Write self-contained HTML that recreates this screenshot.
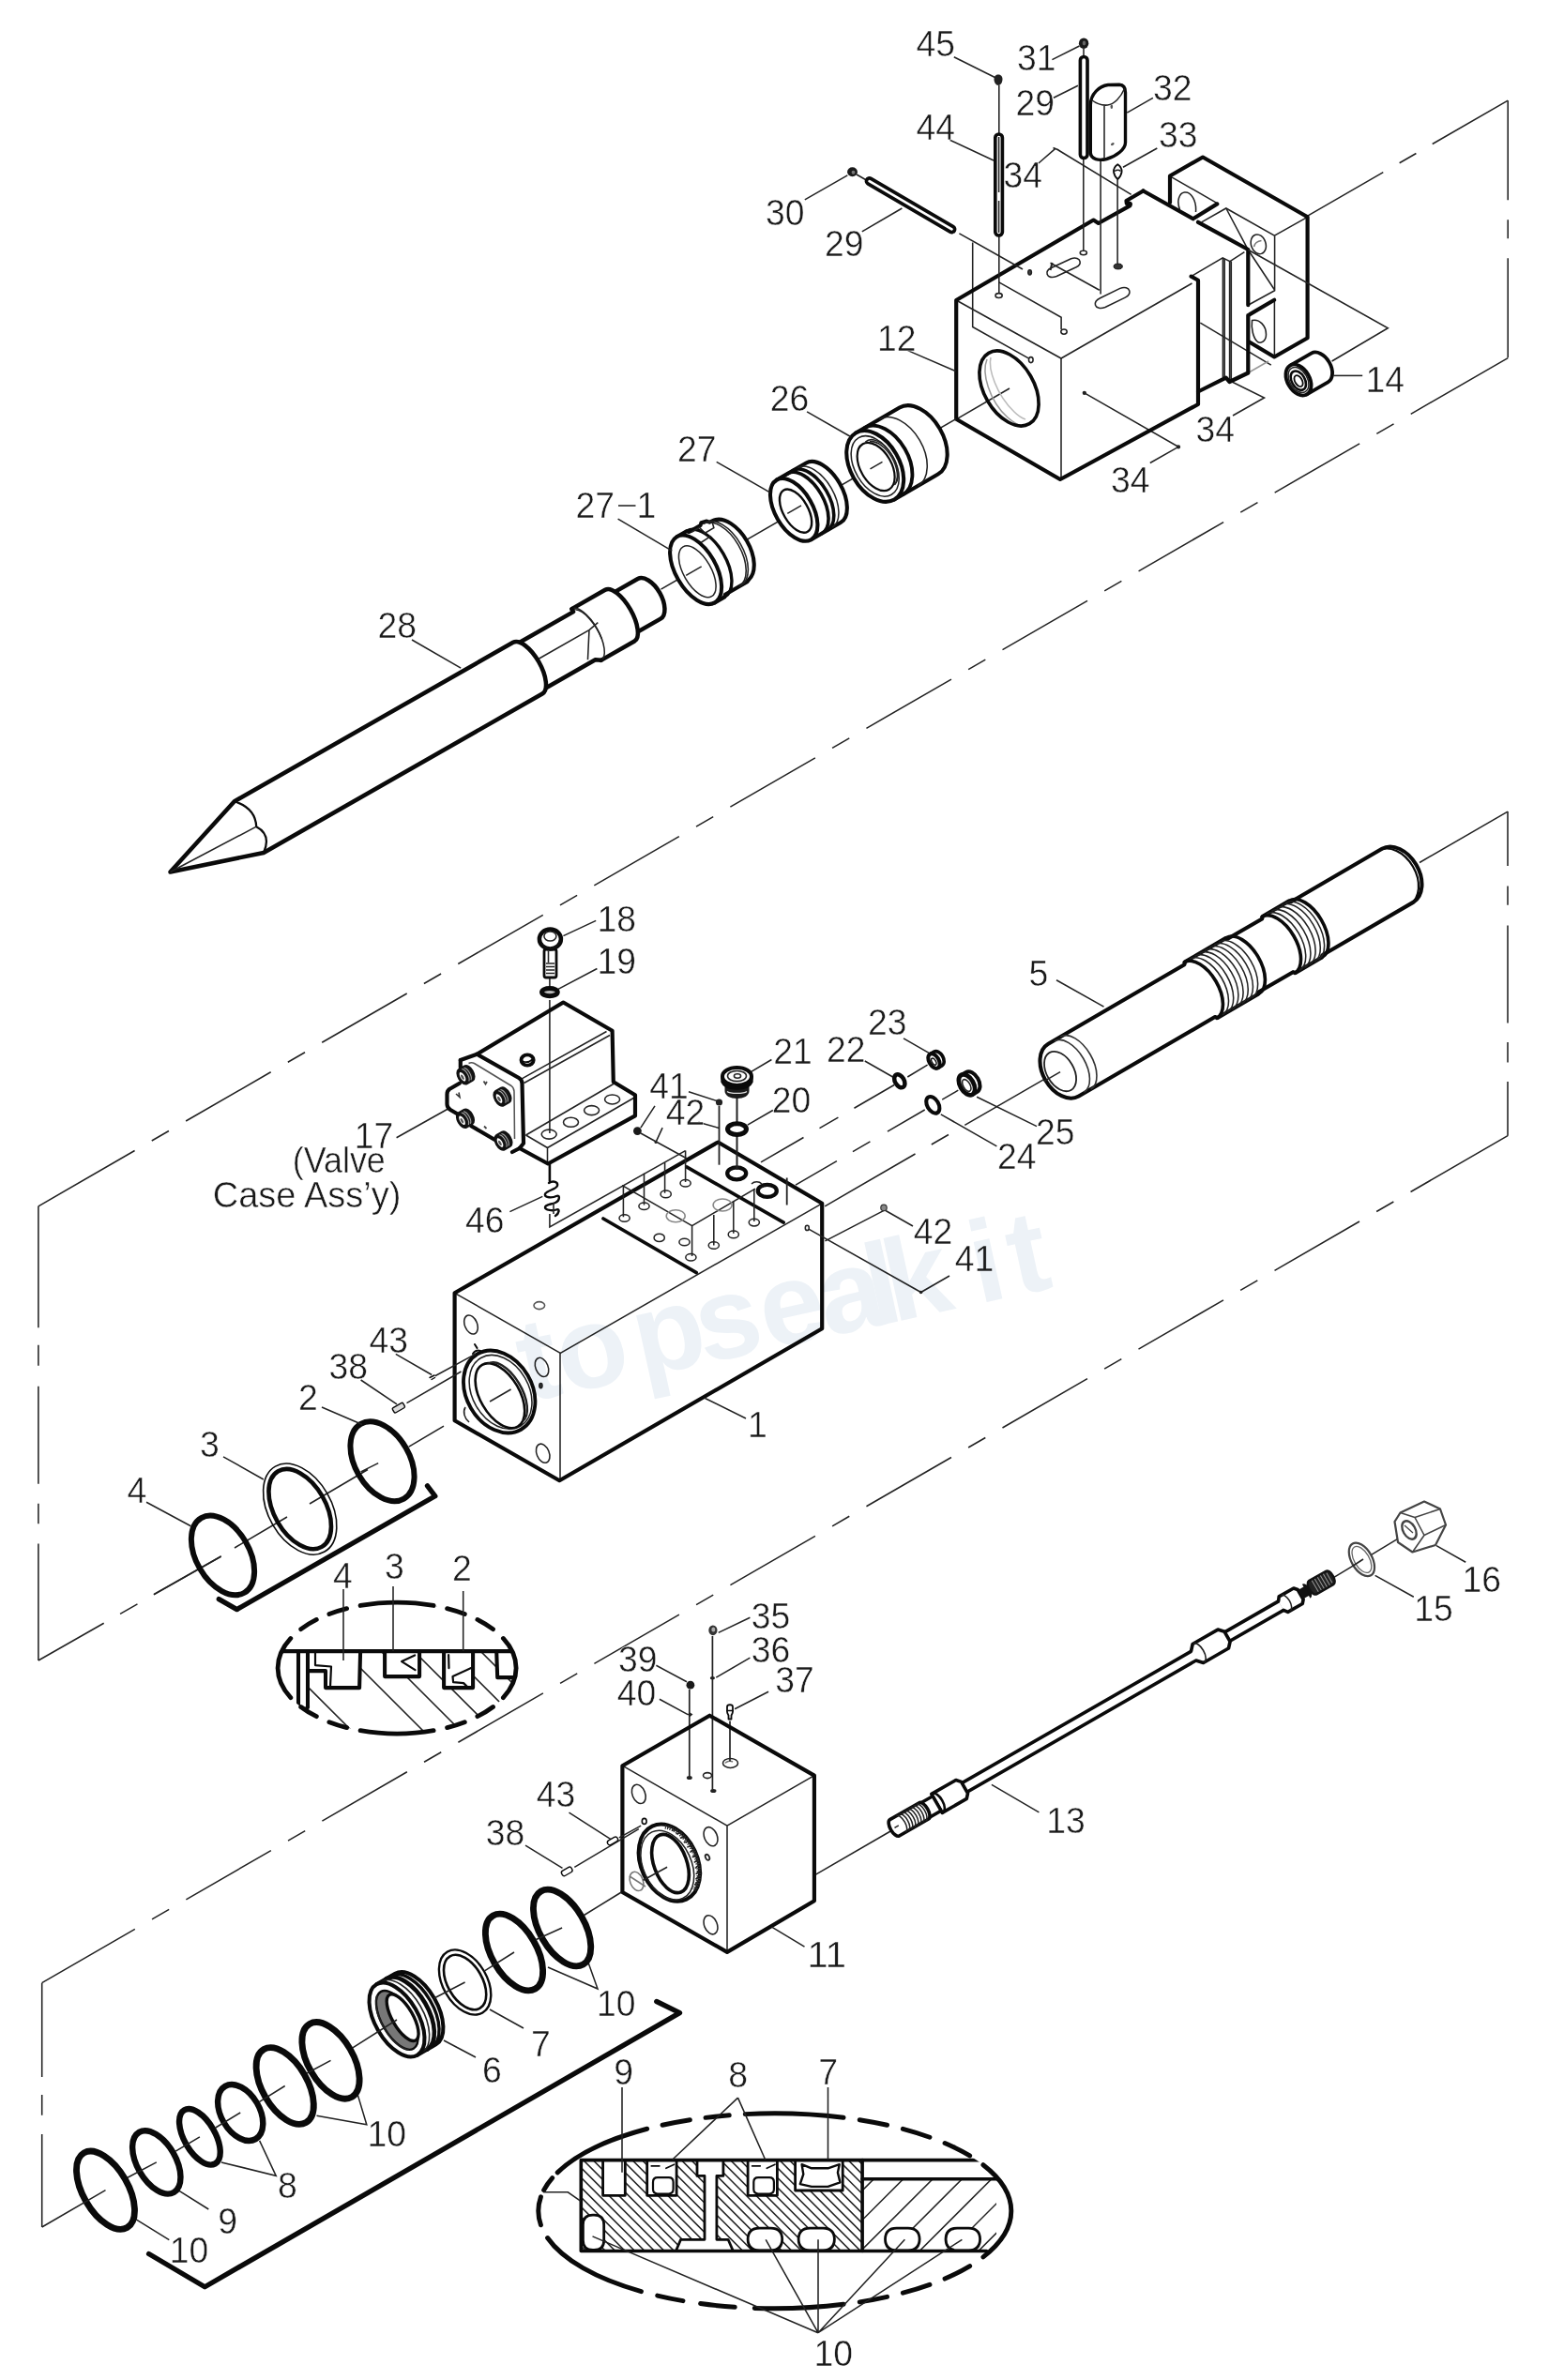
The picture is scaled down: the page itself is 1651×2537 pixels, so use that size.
<!DOCTYPE html>
<html><head><meta charset="utf-8"><title>Exploded view</title>
<style>
html,body{margin:0;padding:0;background:#fff;}
svg{display:block}
text{font-family:"Liberation Sans",sans-serif;fill:#1a1a1a;stroke:#fff;stroke-width:.5px;paint-order:fill stroke}
.k{stroke:#0a0a0a;stroke-linecap:round;stroke-linejoin:round}
.t{stroke:#222;stroke-width:1.55}
.w{fill:#fff}
</style></head><body>
<svg width="1651" height="2537" viewBox="0 0 1651 2537" fill="none">
<rect width="1651" height="2537" fill="#fff"/>
<!-- ===== centre-line frames ===== -->
<g class="t" stroke-linecap="butt">
<!-- frame 1 -->
<path d="M1393.7 230.1L1607.2 107.2" stroke-dasharray="93 20 20.5 20 93"/>
<path d="M1607.2 107.2V381.6" stroke-dasharray="106 21 20 21 106"/>
<path d="M1607.2 381.6L40.9 1285.8" stroke-dasharray="119.5 21 21 21 104.5 21 21 21 104.5 21 21 21 104.5 21 21 21 104.5 21 21 21 104.5 21 21 21 104.5 21 21 21 104.5 21 21 21 104.5 21 21 21 104.5 21 21 21 119.5"/>
<path d="M40.9 1285.8V1770" stroke-dasharray="129.4 18.5 22 22 104 21 21.5 21.3 125"/>
<path d="M40.9 1770L235.7 1659" stroke-dasharray="80.3 20 21.2 20 90"/>
</g>
<g class="t" stroke-linecap="butt">
<!-- frame 2 -->
<path d="M1513 919.5L1607 865.1"/>
<path d="M1607 865.1V1210.7" stroke-dasharray="57.8 21.5 20.4 21.6 104.2 20.4 21.5 20.4 58"/>
<path d="M1607 1210.7L44.7 2113.7" stroke-dasharray="119.5 21 21 21 104.5 21 21 21 104.5 21 21 21 104.5 21 21 21 104.5 21 21 21 104.5 21 21 21 104.5 21 21 21 104.5 21 21 21 104.5 21 21 21 104.5 21 21 21 119.5"/>
<path d="M44.7 2113.7V2374" stroke-dasharray="100.3 19 21.7 20.3 99"/>
</g>

<!-- ===== TOP ASSEMBLY ===== -->
<g id="bracket">
<path class="w" d="M1247 187.1L1281.3 167.2L1393.6 231.3V360.3L1358.2 380.5L1330.3 364.5V267L1273 232.2L1247 216Z"/>
<g class="t">
<path d="M1248 188.300L1297.300 216.700"/>
<path d="M1280.600 236.800L1306.800 222L1358.400 251.200L1393.600 231.300"/>
<path d="M1358.600 251.600V309.700L1330.300 325.200"/>
<path d="M1358.400 319.800V379.500"/>
<path d="M1306.800 222L1330.300 266.300L1358.200 308.500"/>
<path d="M1257.500 223.500c-3.500-9-1-17.500 5-18.500c7-1 13 9 12 21"/>
<ellipse cx="1341.300" cy="260.300" rx="7.800" ry="10.600" transform="rotate(-18 1341.300 260.300)"/>
<path d="M1336.500 263c1-4 4-6 8-6.500" stroke="#777"/>
<path d="M1334.500 341.500c8-2 15 6 15 15c0 7-5 10-9 8c-5-4-7-15-6-23z"/>
</g>
<g class="k" stroke-width="4.18">
<path d="M1247 216V187.500L1282 167.500L1393.600 231.300V360.300L1358.200 380.500L1331.500 364.500"/>
<path d="M1271.600 233.200L1297.300 217.400"/>
<path d="M1358.200 319.800L1330.300 336.100"/>
</g>
</g>

<g id="block12">
<path class="w" d="M1019.2 320L1165.5 234.5L1170.8 238L1218.5 203.5L1330.3 266.3V397.5L1310.5 407L1306.7 402.7L1277 417.5V431L1130 511L1019.2 446.7Z"/>
<g class="t">
<path d="M1019.2 320L1131 382L1270.5 302"/>
<path d="M1131 382V511"/>
<path d="M1270 294.3L1303.2 274.9L1310.9 278.7L1326.4 268.7"/>
<path d="M1303.4 275V402.5M1305.2 276V402.5M1310.6 279V406M1312.3 278.5V406"/>
<path d="M1279.3 344.2L1354.8 389.2"/>
<path d="M1308 404.5L1347.5 424L1314 443"/>
<path d="M1330.3 397.5L1352 385" stroke="#999"/>
<!-- bore axis + depth -->
<path d="M1020.7 446.2L1076 414"/>
<path d="M1052 383c-6 14 2 44 22 62c8 7 14 9 17 9" stroke="#999"/>
<path d="M1056 381c-3 12 6 40 25 58c5 5 9 7 12 8" stroke="#bbb"/>
<!-- top face details -->
<ellipse cx="1064.6" cy="315" rx="3.6" ry="2.4"/>
<ellipse cx="1154.8" cy="269.5" rx="3.6" ry="2.2"/>
<ellipse cx="1097.6" cy="290.3" rx="1.8" ry="2.6" fill="#444"/>
<ellipse cx="1134" cy="353.6" rx="3.2" ry="2.6"/>
<ellipse cx="1098.8" cy="383.6" rx="2.3" ry="3"/>
<path d="M1064.3 300.6L1131.1 338.3V351"/>
<path d="M1036.7 258.4V348.5L1096.2 381.9"/>
<path d="M1119.5 280.2L1171.8 309.3"/>
<path d="M1120.6 285.5L1141.6 275.8c5-2 9 0 9.500 3c.5 2.500-1 4.500-4 6L1126.200 294.500c-5 2-9 1-10-2c-1-3 1-5.500 4.400-7z"/>
<path d="M1121.500 280l-2 8" stroke-width="2.00"/>
<path d="M1172.600 317.700L1193.800 307.400c5-2 9-0.500 10 2.500c.8 3-1 5.500-4.500 7.200L1178 327.500c-5 2-9.500 1-10.500-2.200c-.8-3 1.200-5.800 5.100-7.600z"/>
<path d="M1155.800 418.800L1256 476.300L1225.800 493.500"/>
<circle cx="1155.800" cy="418.800" r="1.400" fill="#222"/><circle cx="1256" cy="476.300" r="1.400" fill="#222"/>
</g>
<ellipse cx="1191.700" cy="284" rx="4.600" ry="2.900" fill="#333" stroke="#111" stroke-width="1.00"/>
<g class="k" stroke-width="4.18">
<path d="M1218.500 203.500L1200.500 214L1200.800 216.800Q1206.500 215.500 1204.200 219.400L1170.800 238L1165.500 234.500L1019.200 320V446.700L1130 511L1277 431V298.800L1269.600 294.600"/>
<path d="M1218.500 203.500L1271.600 233.200M1277 236.800L1330.300 266V325.200"/>
<path d="M1330.300 336.100V397.500L1310.500 407L1306.700 402.700L1277 417.500"/>
</g>
<ellipse class="k" stroke-width="3.62" cx="1075.500" cy="414" rx="26.500" ry="43.500" transform="rotate(-30 1075.500 414)"/>
</g>

<!-- pins / balls above block 12 -->
<g class="t">
<path d="M1016.800 60.700L1060.400 82.500"/>
<path d="M1064.800 91V142M1064.800 251V313"/>
<path d="M1012.500 149.300L1059 171"/>
<path d="M1121.400 63.600L1150.500 49"/>
<path d="M1122.900 104.300L1149 91.200"/>
<path d="M1154.800 169.600V268"/>
<path d="M1201.300 120.200L1228.900 104.300"/>
<path d="M1173.100 171V313.500"/>
<path d="M1197 178.300L1233.300 158"/>
<path d="M1191.100 191.400V281.500"/>
<path d="M1106.900 174L1124.300 158.900M1122.500 157.500l6 2.500M1127.200 159.500L1205.700 207.400"/>
<path d="M857.800 212.900L903.300 186.800"/>
<path d="M918.800 246.800L961.400 222"/>
<path d="M913 186L926 193.500M1022.400 248.800L1090 287"/>
<path d="M967.600 373.600L1018.700 395.600"/>
</g>
<!-- ball 45 -->
<path d="M1059.500 84.500c0-3.500 2-5 4.500-5s4.500 1.500 4.500 5c0 3-2 6.500-4.500 6.500s-4.500-3.500-4.500-6.500z" fill="#222"/>
<!-- pin 44 -->
<rect x="1060.800" y="143" width="7.600" height="108" rx="3.800" class="k" stroke-width="3.62" fill="#fff"/>
<path class="t" d="M1064.600 146V205M1064.600 214V248" stroke="#555"/>
<!-- ball 31 -->
<ellipse cx="1155.100" cy="46.200" rx="5.200" ry="5.800" fill="#1a1a1a"/>
<ellipse cx="1155.500" cy="46" rx="1.800" ry="2.400" fill="#666"/>
<path class="t" d="M1155 52V59"/>
<!-- pin 29 vertical -->
<rect x="1151.400" y="60.500" width="7.600" height="108" rx="3.800" class="k" stroke-width="3.62" fill="#fff"/>
<!-- block 32 -->
<path class="k w" stroke-width="3.39" fill="#fff" d="M1162.300 112C1162.300 100 1172 91.500 1181 90.500L1193 90.300C1197 90.500 1199.500 93.500 1199.500 98.500V152C1199.500 159 1190 166.500 1179.500 169.500C1171 171.500 1163 170 1162.300 163Z"/>
<path class="t" d="M1163.500 106.500c5 4 12 6 17 5.500c7-1 14-8 18-17.500"/>
<path class="t" d="M1177 112.500V169" stroke="#999"/>
<ellipse cx="1184.800" cy="113.700" rx="1.300" ry="2.200" fill="#555"/>
<ellipse cx="1185.800" cy="153.600" rx="2" ry="1.300" fill="#555" transform="rotate(-30 1185.800 153.600)"/>
<!-- item 33 -->
<path class="k" stroke-width="1.80" fill="#fff" d="M1191.300 175.200c3 2 4.500 5 4.300 8c-.3 3-2.300 6-4.300 8c-2-2-4-5-4.300-8c-.2-3 1.300-6 4.300-8z"/>
<path d="M1188 182.500c2-1.500 5-1.500 6.500 0" class="t" stroke-width="1.60"/>
<!-- ball 30 + diagonal pin 29 -->
<ellipse cx="908.500" cy="183.300" rx="5.400" ry="5" fill="#1a1a1a"/>
<ellipse cx="909.500" cy="183.800" rx="1.900" ry="2" fill="#777"/>
<g transform="rotate(30.300 926.500 193)"><rect x="923.500" y="189.800" width="108" height="6.400" rx="3.200" class="k" stroke-width="3.62" fill="#fff"/></g>

<g font-size="39.500">
<text x="976.500" y="59.500" textLength="41.5" lengthAdjust="spacingAndGlyphs">45</text>
<text x="976.500" y="149" textLength="41.5" lengthAdjust="spacingAndGlyphs">44</text>
<text x="1084" y="75" textLength="41.5" lengthAdjust="spacingAndGlyphs">31</text>
<text x="1082.500" y="123" textLength="41.5" lengthAdjust="spacingAndGlyphs">29</text>
<text x="1229" y="107" textLength="41.5" lengthAdjust="spacingAndGlyphs">32</text>
<text x="1235" y="156.500" textLength="41.5" lengthAdjust="spacingAndGlyphs">33</text>
<text x="1069.500" y="200" textLength="41.5" lengthAdjust="spacingAndGlyphs">34</text>
<text x="816" y="240" textLength="41.5" lengthAdjust="spacingAndGlyphs">30</text>
<text x="879" y="273" textLength="41.5" lengthAdjust="spacingAndGlyphs">29</text>
<text x="935" y="373.600" textLength="41.5" lengthAdjust="spacingAndGlyphs">12</text>
<text x="1274.500" y="471.400" textLength="41.5" lengthAdjust="spacingAndGlyphs">34</text>
<text x="1184" y="524.700" textLength="41.5" lengthAdjust="spacingAndGlyphs">34</text>
<text x="1455.600" y="417.600" textLength="41.5" lengthAdjust="spacingAndGlyphs">14</text>
<text x="820.800" y="437.600" textLength="41.5" lengthAdjust="spacingAndGlyphs">26</text>
<text x="722" y="492.300" textLength="41.5" lengthAdjust="spacingAndGlyphs">27</text>
<text x="613.500" y="552" textLength="41.5" lengthAdjust="spacingAndGlyphs">27</text><text x="678.500" y="552" textLength="20.8" lengthAdjust="spacingAndGlyphs">1</text>
<text x="402.400" y="680.400" textLength="41.5" lengthAdjust="spacingAndGlyphs">28</text>
</g>
<path class="t" stroke-width="2.00" d="M659 539H677.500"/>

<!-- axis line for top assembly -->
<path class="t" d="M704.500 628.100L1019.200 446.500" />
<!-- part 26 -->
<g transform="translate(932.700 496.900) rotate(-30)">
<path class="k w" stroke-width="4.07" fill="#fff" d="M0 -41H53.700A26 41 0 0 1 53.700 41H0"/>
<path class="t" d="M29 -41A26 41 0 0 1 29 41" stroke="#666"/>
<path class="k" stroke-width="3.84" d="M10.700 -41A26 41 0 0 1 10.700 41"/>
<ellipse class="k" stroke-width="4.07" fill="#fff" rx="26" ry="41"/>
<ellipse class="t" rx="21.500" ry="35" stroke="#555"/>
<ellipse class="k" stroke-width="2.20" rx="16.500" ry="28" cx="0.500" cy="1"/>
<path class="t" d="M8 -25.500A15 27 0 0 1 8 27.500" stroke="#444"/>
<path class="t" d="M4 -27.500A15 27 0 0 1 8 27.500" stroke="#999"/>
<path class="t" d="M-6 0H9"/>
</g>
<!-- part 27 -->
<g transform="translate(846.200 543.400) rotate(-30)">
<path class="k w" stroke-width="4.07" fill="#fff" d="M0 -36.700H36.300A20 36.700 0 0 1 36.300 36.700H0"/>
<path class="k" stroke-width="3.62" d="M13.400 -36.700A20 36.700 0 0 1 13.400 36.700"/>
<path class="k" stroke-width="3.62" d="M20 -36.700A20 36.700 0 0 1 20 36.700"/>
<path class="t" d="M26 -36.700A20 36.700 0 0 1 26 36.700" stroke="#777"/>
<ellipse class="k" stroke-width="4.07" fill="#fff" rx="20" ry="36.700"/>
<ellipse class="k" stroke-width="2.40" rx="13.200" ry="25.500" cx="1" cy="2"/>
<path class="t" d="M-8 0H9"/>
</g>
<!-- part 27-1 -->
<g transform="translate(741.600 607.300) rotate(-30)">
<path class="k w" stroke-width="4.07" d="M0 -40.500H12L14 -38.500H28L30 -40.500L36 -39L38 -36.500L43.500 -36A21.500 37 0 0 1 43.500 37.500L41 38.500H14L12 40.500H0"/>
<path class="k" stroke-width="3.39" d="M12.500 -40.500A21.500 40.500 0 0 1 12.500 40.500"/>
<path class="t" d="M31 -38.500A21.500 38.500 0 0 1 31 38.500" stroke="#444"/>
<path class="t" d="M33.500 -38.500A21.500 38.500 0 0 1 33.500 38.500" stroke="#888"/>
<path class="t" d="M16 -37h10l2 8h11l1.500 -6" stroke="#444"/>
<path class="t" d="M14 -22L32 -23" stroke="#444"/>
<path class="t" d="M3 -37L13 -34" stroke="#777"/>
<ellipse class="k w" stroke-width="4.07" rx="21.500" ry="40.500"/>
<ellipse class="t" stroke-width="1.60" rx="14.600" ry="30.500" cx="0.500" cy="2.500"/>
<path class="t" d="M-12 0H7"/>
</g>
<!-- roller 14 -->
<path class="t" d="M1330.300 266.300L1479.300 349.700L1419.600 385"/>
<path class="t" d="M1421.400 400.400H1452.200"/>
<g transform="translate(1384 405) rotate(-30)">
<path class="k w" stroke-width="3.84" fill="#fff" d="M0 -17.800H26A11.800 17.800 0 0 1 26 17.800H0"/>
<ellipse class="k" stroke-width="3.84" fill="#fff" rx="11.800" ry="17.800"/>
<ellipse class="k" stroke-width="2.60" rx="7" ry="11" cx="-0.500" cy="0.500"/>
<ellipse class="t" rx="9.500" ry="14.500" stroke="#777"/>
<ellipse class="k" stroke-width="1.80" rx="3.800" ry="6.500" cx="-0.500" cy="1"/>
</g>
<!-- chisel 28 -->
<path class="t" d="M439 682L491.200 712.200"/>
<path class="t" d="M658.600 553.100L716.200 587.100"/>
<path class="t" d="M763.700 492.300L820.600 524.800"/>
<path class="t" d="M860.100 438.800L906.600 465.500"/>
<g transform="translate(265.400 881.600) rotate(-29.700)">
<!-- neck -->
<path class="k w" stroke-width="4.52" fill="#fff" d="M455 -24.500H491A13 24.500 0 0 1 491 24.500H455Z"/>
<!-- collar -->
<path class="k w" stroke-width="4.52" fill="#fff" d="M414 -31.500H455A13 31.500 0 0 1 455 31.500H414"/>
<path class="t" d="M414 -31.500A13 31.500 0 0 1 414 31.500" stroke="#444"/>
<path class="t" d="M417 -29A13 31.500 0 0 1 426 12" stroke="#aaa"/>
<!-- narrow -->
<path class="w" d="M342 -28H414V28H342Z"/>
<path class="k" stroke-width="4.52" d="M342 -28H414V-31.500M414 31.500L409 28H342"/>
<path class="t" d="M350 -2.800H419L402 24M419 -2.800L431 -5" stroke="#333"/>
<!-- main -->
<path class="k w" stroke-width="4.52" fill="#fff" d="M0 -31.500H342A13.500 31.500 0 0 1 342 31.500H0L-96.600 0Z"/>
<path class="k" stroke-width="2.20" d="M0 -31.500Q16 -14 7 3.500Q17 19 0 31.500"/>
<path class="t" d="M-96.600 0L7 3.500" stroke="#444"/>
</g>

<!-- ===== BODY 1 ===== -->
<g id="body1">
<path class="w" d="M484.600 1378.300L765.300 1217.500L876.200 1282.800V1416.200L596.300 1578.200L484.600 1514.300Z"/>
<g class="t">
<path d="M484.600 1378.300L597.300 1442.300L876.200 1282.800"/>
<path d="M597 1442.300V1578"/>
<!-- bolt holes on front face -->
<ellipse cx="502" cy="1412" rx="6.600" ry="10.500" transform="rotate(-22 502 1412)"/>
<ellipse cx="577.500" cy="1457.400" rx="6.600" ry="10.500" transform="rotate(-22 577.500 1457.400)"/>
<ellipse cx="578.700" cy="1549.200" rx="6.600" ry="10.500" transform="rotate(-22 578.700 1549.200)"/>
<path d="M496 1500c-3 5-1 12 4 16" />
<ellipse cx="574.800" cy="1391.600" rx="5.800" ry="4"  stroke="#555"/>
<ellipse cx="576.400" cy="1477.100" rx="1.600" ry="2.600" fill="#333"/>
</g>
<!-- bore -->
<g transform="translate(532.200 1483.500) rotate(-30)">
<ellipse class="k" stroke-width="3.84" rx="35" ry="46.500" fill="#fff"/>
<ellipse class="t" rx="30" ry="42" cx="1" cy="1" stroke="#666"/>
<ellipse class="k" stroke-width="2.60" rx="21" ry="38" cx="-1.500" cy="4"/>
<path class="t" d="M4 -32A18 36 0 0 1 6 40" stroke="#555"/>
<path class="t" d="M10 -30A18 36 0 0 1 10 38" stroke="#999"/>
<path class="t" d="M-14 4H12"/>
</g>
<g class="k" stroke-width="4.18">
<path d="M765.300 1217.500L484.600 1378.300V1514.300L596.300 1578.200L876.200 1416.200V1282.800Z"/>
<path d="M643 1299L742.300 1356.600M731.800 1243.900L835.200 1303.100" stroke-width="3.62"/>
</g>
<!-- valve pad details -->
<g class="t">
<path d="M585.900 1294V1307.900L730.500 1226.600"/>
<path d="M663.200 1263.600L737.600 1306.600L805 1267.100"/>
<path d="M664.400 1263.600V1297.300M686.500 1250.800V1284.500M708.600 1239.200V1271.800M730.600 1226.500V1260.100"/>
<path d="M737.600 1306.600V1339.100M760.800 1295V1327.500M781.800 1281V1314.800M803.800 1267.100V1302"/>
<path d="M838.700 1255.500V1284.500" stroke-width="1.80"/>
<g stroke-width="1.50">
<ellipse cx="665.600" cy="1298.500" rx="5.600" ry="3.800"/>
<ellipse cx="686.500" cy="1285.700" rx="5.600" ry="3.800"/>
<ellipse cx="709.700" cy="1272.900" rx="5.600" ry="3.800"/>
<ellipse cx="730.600" cy="1261.300" rx="5.600" ry="3.800"/>
<ellipse cx="702.700" cy="1319.400" rx="5.600" ry="4.200"/>
<ellipse cx="729.500" cy="1324" rx="5.600" ry="3.800"/>
<ellipse cx="736.400" cy="1340.300" rx="5.600" ry="3.800"/>
<ellipse cx="760.800" cy="1327.500" rx="5.600" ry="3.800"/>
<ellipse cx="781.800" cy="1315.900" rx="5.600" ry="3.800"/>
<ellipse cx="803.800" cy="1303.100" rx="5.600" ry="3.800"/>
</g>
<ellipse cx="720.200" cy="1296.200" rx="10" ry="6.500" stroke="#888"/>
<ellipse cx="770.100" cy="1284.500" rx="10" ry="6.500" stroke="#888"/>
<ellipse cx="860.300" cy="1308.900" rx="2" ry="2.600"/>
</g>
<ellipse cx="785.200" cy="1250.800" rx="10" ry="6.500" class="k" stroke-width="4.29"/><path d="M776 1249c2-4 8-5.500 13-4.500c-5 0-10 2-13 4.500z" fill="#111" stroke="#111" stroke-width="1.50"/>
<ellipse cx="817.800" cy="1269.400" rx="10" ry="6.500" class="k" stroke-width="4.29"/><path d="M808.600 1267.600c2-4 8-5.500 13-4.500c-5 0-10 2-13 4.500z" fill="#111" stroke="#111" stroke-width="1.50"/>
<path class="t" d="M812 1262c-3-3-8-3-11 0" stroke="#666"/>
</g>

<!-- ===== PISTON 5 ===== -->
<path class="t" stroke-dasharray="115 20 21 20 400" d="M1127.800 1141.800L879.200 1285.800"/>
<g transform="translate(1133.500 1140.600) rotate(-30.200)">
<path class="k w" stroke-width="4.07" d="M0 -32.300H168L170 -34.500H220L222 -32.800H264L266 -34.800H298L300 -33H412A23 33 0 0 1 412 33H300L298 34.800H266L264 32.800H222L220 34.500H170L168 32.300H0A22 32.300 0 0 1 0 -32.300Z"/>
<path class="k" stroke-width="2.20" d="M408 -33A23 33 0 0 1 408 33" />
<g class="k" stroke-width="3.62">
<path d="M169 -34.500A19 34.500 0 0 1 169 34.500"/>
<path d="M221 -34.500A19 34.500 0 0 1 221 34.500"/>
<path d="M265 -34.800A19 34.800 0 0 1 265 34.800"/>
<path d="M299 -34.800A19 34.800 0 0 1 299 34.800"/>
</g>
<g class="t" stroke="#333">
<path d="M176 -34.500A19 34.500 0 0 1 176 34.500M182 -34.500A19 34.500 0 0 1 182 34.500M188 -34.500A19 34.500 0 0 1 188 34.500M194 -34.500A19 34.500 0 0 1 194 34.500M200 -34.500A19 34.500 0 0 1 200 34.500M206 -34.500A19 34.500 0 0 1 206 34.500M212 -34.500A19 34.500 0 0 1 212 34.500"/>
<path d="M271 -34.800A19 34.800 0 0 1 271 34.800M277 -34.800A19 34.800 0 0 1 277 34.800M283 -34.800A19 34.800 0 0 1 283 34.800M289 -34.800A19 34.800 0 0 1 289 34.800M294 -34.800A19 34.800 0 0 1 294 34.800"/>
<path d="M15 -32.300A18 32.300 0 0 1 15 32.300" stroke="#333" stroke-width="1.60"/>
<path d="M7 -31.500A17.500 31.500 0 0 1 7 31.500" stroke="#333" stroke-width="1.60"/>
<ellipse cx="-3.700" cy="-0.500" rx="14.500" ry="23" stroke="#222" stroke-width="1.80"/>
<path d="M-24 0H-4"/>
</g>
</g>
<path class="t" d="M1126 1044.800L1176.500 1073.100"/>

<!-- ===== small rings 22-25 ===== -->
<g class="t" stroke-linecap="butt">
<path d="M953.100 1156.500L811 1238.900" stroke-dasharray="49.300 19.700 23 19.700 60"/>
<path d="M985.700 1183L848 1263.100" stroke-dasharray="46 21.400 21.400 19.700 60"/>
<path d="M967.300 1148L988.600 1135.200M1004.200 1172.200L1021.300 1162.200"/>
<path d="M921.800 1131L951.600 1148M963 1106.800L990 1122.400M1002.800 1187.800L1062.400 1221.900M1041.100 1169.300L1105 1200.600"/>
</g>
<ellipse class="k" stroke-width="4.52" cx="958.800" cy="1152.300" rx="4.800" ry="7.600" transform="rotate(-30 958.800 1152.300)"/>
<ellipse class="k" stroke-width="4.07" cx="994.300" cy="1177.800" rx="6" ry="9.600" transform="rotate(-30 994.300 1177.800)"/>
<g transform="translate(995.500 1131) rotate(-30)">
<path class="k" stroke-width="3.62" fill="#fff" d="M0 -8.500H5A5.500 8.500 0 0 1 5 8.500H0"/>
<ellipse class="k" stroke-width="4.07" fill="#fff" rx="5.200" ry="8.500"/>
<ellipse class="k" stroke-width="1.40" rx="2" ry="4" cx="-0.500" cy="0.500"/>
</g>
<g transform="translate(1030.500 1156.300) rotate(-30)">
<path class="k" stroke-width="4.07" fill="#fff" d="M0 -12H6A7.500 12 0 0 1 6 12H0"/>
<ellipse class="k" stroke-width="4.75" fill="#fff" rx="7.200" ry="12"/>
<ellipse class="t" rx="3.600" ry="7" cx="-0.500" cy="0.500" stroke="#555"/>
</g>

<!-- ===== plug 21 / o-ring 20 ===== -->
<g class="t">
<path d="M798.200 1143.800L822.400 1129.500M796.800 1199.100L823.800 1183.500"/>
<path d="M785.500 1170V1196M785.500 1211V1247" stroke-width="2.00"/>
</g>
<path d="M772.500 1152v11c0 5 6 8 13 8s13-3 13-8v-11z" fill="#1a1a1a"/>
<path d="M775 1163.500c3 2.500 18 2.500 21 0" stroke="#ddd" stroke-width="1.20" fill="none"/>
<ellipse class="k" stroke-width="4.07" fill="#fff" cx="785.500" cy="1147.500" rx="15.500" ry="9.500"/>
<path class="k" stroke-width="3.39" d="M770 1148v5c2 5 8 7 15.500 7s13.500-2 15.500-7v-5" fill="none"/>
<ellipse class="t" cx="785.500" cy="1147" rx="10" ry="5.600" stroke="#555"/>
<ellipse class="t" cx="786" cy="1147" rx="3.600" ry="2.200" stroke="#444"/>
<ellipse class="k" stroke-width="5.03" cx="785.500" cy="1203.600" rx="10" ry="5.800" fill="#fff"/>

<!-- ===== balls 41 / 42 ===== -->
<g class="t">
<path d="M698 1178.900L682.900 1202.200M682.900 1208L731.700 1234.700M706.100 1202.200L699.100 1217.300"/>
<path d="M734 1163.800L764.200 1173.600M744.400 1196.300L766.500 1202.500"/>
<path d="M766.500 1178.900V1241.700" stroke-width="1.80"/>
<path d="M861.900 1310.100L981.600 1377.500L1012 1360M879.400 1322.900L942.100 1290.400M944 1290.500L973 1307"/>
</g>
<circle cx="679.400" cy="1205.600" r="4.400" fill="#1a1a1a"/>
<circle cx="766.500" cy="1175" r="3.600" fill="#222"/>
<circle cx="942" cy="1287.400" r="3.200" fill="#888" stroke="#333" stroke-width="1.20"/>
<circle cx="981.600" cy="1377.500" r="1.800" fill="#222"/>
<circle cx="699" cy="1217.500" r="1.500" fill="#222"/>

<g font-size="39.500">
<text x="1096.500" y="1050.800" textLength="20.8" lengthAdjust="spacingAndGlyphs">5</text>
<text x="973.700" y="1326.400" textLength="41.5" lengthAdjust="spacingAndGlyphs">42</text>
<text x="1017.700" y="1355" textLength="41.5" lengthAdjust="spacingAndGlyphs">41</text>
<text x="824.200" y="1133.800" textLength="41.5" lengthAdjust="spacingAndGlyphs">21</text>
<text x="822.800" y="1186.400" textLength="41.5" lengthAdjust="spacingAndGlyphs">20</text>
<text x="881" y="1132.400" textLength="41.5" lengthAdjust="spacingAndGlyphs">22</text>
<text x="925.100" y="1103.400" textLength="41.5" lengthAdjust="spacingAndGlyphs">23</text>
<text x="1062.900" y="1246" textLength="41.5" lengthAdjust="spacingAndGlyphs">24</text>
<text x="1104" y="1219.900" textLength="41.5" lengthAdjust="spacingAndGlyphs">25</text>
<text x="692.300" y="1170.800" textLength="41.5" lengthAdjust="spacingAndGlyphs">41</text>
<text x="709.700" y="1198.700" textLength="41.5" lengthAdjust="spacingAndGlyphs">42</text>
<text x="636.500" y="993" textLength="41.5" lengthAdjust="spacingAndGlyphs">18</text>
<text x="636.500" y="1038.300" textLength="41.5" lengthAdjust="spacingAndGlyphs">19</text>
<text x="495.900" y="1313.700" textLength="41.5" lengthAdjust="spacingAndGlyphs">46</text>
<text x="377.700" y="1223.800" textLength="41.5" lengthAdjust="spacingAndGlyphs">17</text>
<text x="311.800" y="1250.200" textLength="99" lengthAdjust="spacingAndGlyphs">(Valve</text>
<text x="226.800" y="1286.900" textLength="200.500" lengthAdjust="spacingAndGlyphs">Case Ass’y)</text>
</g>

<!-- ===== VALVE CASE 17 ===== -->
<g id="valve17">
<path class="t" d="M422.600 1212.800L477.500 1182"/>
<path class="t" d="M600.400 997.600L635.200 981.400M594.500 1054.600L636.400 1032.500M543.400 1291.600L578.300 1275.400"/>
<path class="w" d="M600.400 1068.500L652.600 1098.700L653.800 1153.300L677 1167.300V1189.400L584.100 1240.500L553.800 1224L542.300 1227.700L491.100 1203.300L490 1189L476 1181V1162L490 1154.500V1130.100L508.400 1123.800Z"/>
<g class="t">
<path d="M556.200 1149.900L646.500 1099.500M558.500 1154.500L650 1103.500"/>
<path d="M560.500 1210L653.800 1155.500"/>
<path d="M560.500 1210L583.500 1223.500L677 1169.500M583.500 1223.500V1240"/>
<ellipse cx="585.200" cy="1209.100" rx="8" ry="5"/><ellipse cx="608.500" cy="1196.300" rx="8" ry="5"/><ellipse cx="630.600" cy="1183.600" rx="8" ry="5"/><ellipse cx="652.600" cy="1171.900" rx="8" ry="5"/>
<path d="M499.500 1133.500c2-1 4-1 6 0L545 1157.500c2 1.500 3 3 3 6L548.500 1214" stroke="#555"/>
<path d="M515.500 1152.500l2 3l1.500-2.500M516 1200.500l2.500 2.500" stroke-width="1.80" stroke="#444"/>
<path d="M486 1166l4 3.500l-1 -5" stroke-width="1.60" stroke="#333"/>
</g>
<ellipse cx="562.100" cy="1130" rx="6.600" ry="5.600" class="k" stroke-width="3.84" fill="#fff"/>
<path class="k" stroke-width="1.80" d="M557 1131.200c3 1.500 7 1 10-1.500"/>
<path class="t" d="M585.900 1042V1052M585.900 1066V1208"/>
<g class="k" stroke-width="4.18">
<path d="M490.800 1130L508.400 1123.800L600.400 1068.500L652.600 1098.700L653.800 1153.300L677 1167.300V1189.400L584.100 1240.500L553.800 1224"/>
<path d="M508.400 1123.800L553 1149Q556.500 1151 556.500 1155L558 1218.800L553.800 1224L546 1228"/>
<path d="M490.800 1130V1138M489.800 1154.700L479 1161C477 1162.500 476.500 1164 476.500 1166.500V1177C476.500 1180 477.500 1181.500 480 1183L489.800 1188.800M502.200 1200.200L527 1214.700"/>
</g>
<g transform="translate(499.5 1144) rotate(-30)">
<path d="M0 -8.500A4.500 8.500 0 0 1 0 8.500L-7 8.500A4.500 8.500 0 0 1 -7 -8.500Z" fill="#1a1a1a" stroke="#111" stroke-width="2.60" stroke-linejoin="round"/>
<path d="M-1.500 -7.500A4 8 0 0 1 -1.500 7.500M-4 -7.500A4 8 0 0 1 -4 7.500" stroke="#aaa" stroke-width="1.00" fill="none"/>
<ellipse cx="-7.500" cy="0" rx="3.600" ry="6.600" fill="#fff" stroke="#111" stroke-width="2.40"/>
<ellipse cx="-7.800" cy="0.300" rx="1.300" ry="3" fill="#555"/>
</g>

<g transform="translate(538.5 1167.3) rotate(-30)">
<path d="M0 -8.500A4.500 8.500 0 0 1 0 8.500L-7 8.500A4.500 8.500 0 0 1 -7 -8.500Z" fill="#1a1a1a" stroke="#111" stroke-width="2.60" stroke-linejoin="round"/>
<path d="M-1.500 -7.500A4 8 0 0 1 -1.500 7.500M-4 -7.500A4 8 0 0 1 -4 7.500" stroke="#aaa" stroke-width="1.00" fill="none"/>
<ellipse cx="-7.500" cy="0" rx="3.600" ry="6.600" fill="#fff" stroke="#111" stroke-width="2.40"/>
<ellipse cx="-7.800" cy="0.300" rx="1.300" ry="3" fill="#555"/>
</g>

<g transform="translate(499 1190.5) rotate(-30)">
<path d="M0 -8.500A4.500 8.500 0 0 1 0 8.500L-7 8.500A4.500 8.500 0 0 1 -7 -8.500Z" fill="#1a1a1a" stroke="#111" stroke-width="2.60" stroke-linejoin="round"/>
<path d="M-1.500 -7.500A4 8 0 0 1 -1.500 7.500M-4 -7.500A4 8 0 0 1 -4 7.500" stroke="#aaa" stroke-width="1.00" fill="none"/>
<ellipse cx="-7.500" cy="0" rx="3.600" ry="6.600" fill="#fff" stroke="#111" stroke-width="2.40"/>
<ellipse cx="-7.800" cy="0.300" rx="1.300" ry="3" fill="#555"/>
</g>

<g transform="translate(539.5 1214.3) rotate(-30)">
<path d="M0 -8.500A4.500 8.500 0 0 1 0 8.500L-7 8.500A4.500 8.500 0 0 1 -7 -8.500Z" fill="#1a1a1a" stroke="#111" stroke-width="2.60" stroke-linejoin="round"/>
<path d="M-1.500 -7.500A4 8 0 0 1 -1.500 7.500M-4 -7.500A4 8 0 0 1 -4 7.500" stroke="#aaa" stroke-width="1.00" fill="none"/>
<ellipse cx="-7.500" cy="0" rx="3.600" ry="6.600" fill="#fff" stroke="#111" stroke-width="2.40"/>
<ellipse cx="-7.800" cy="0.300" rx="1.300" ry="3" fill="#555"/>
</g>

</g>
<!-- bolt 18 -->
<g id="bolt18">
<rect x="580" y="1012" width="13" height="30" rx="2" class="k" stroke-width="2.80" fill="#fff"/>
<path class="t" d="M582 1027h9M582 1030.500h9M582 1034h9M582 1037.500h9" stroke="#444"/>
<path class="t" d="M584.500 1014V1026" stroke="#999"/>
<ellipse cx="586.400" cy="1001" rx="11.500" ry="10.500" class="k" stroke-width="4.52" fill="#fff"/>
<path d="M576 1003c2 6 7 9 11 9s9-3 10-9c-3 5-8 7-10.500 7s-8-2-10.500-7z" fill="#111"/>
<ellipse cx="586.400" cy="998" rx="6.500" ry="5" class="t" stroke="#777"/>
</g>
<ellipse cx="585.900" cy="1057.600" rx="8.400" ry="4.200" class="k" stroke-width="4.97" fill="#bbb"/>
<path class="k" stroke-width="2.60" d="M585.900 1241V1259"/>
<path class="k" stroke-width="2.40" d="M585 1261c5-3 10-1 9 3s-12 5-13 9s8 4 12 2s4 5-1 7s-11 2-11 5s8 4 12 2.500s3 4-1 6.500"/>
<path class="t" d="M590 1282V1294" stroke-width="2.00"/>

<!-- rings 2 3 4 -->
<g class="t" stroke-linecap="butt">
<path d="M164.100 1699.500L235.700 1659"/>
<path d="M250 1650L306 1617M330 1603L392 1566.500M384.600 1568.900L403.200 1559.600"/>
<path d="M435.800 1542.200L473 1520.100"/>
<path d="M156 1601.300L203.400 1626.700M238 1552.800L280.800 1577"/>
<path d="M421.800 1443.400L460.200 1465.500M384.600 1471L423 1496.900"/>
<path d="M433.500 1495.700L491.500 1462M463.700 1466.700L506.700 1443.400"/>
</g>
<ellipse class="k" stroke-width="5.99" cx="237.500" cy="1657.900" rx="28.300" ry="46" transform="rotate(-30 237.500 1657.900)"/>
<ellipse class="k" stroke-width="1.60" cx="319.700" cy="1608.600" rx="33.500" ry="52.500" transform="rotate(-30 319.700 1608.600)"/>
<ellipse class="k" stroke-width="4.60" cx="319.700" cy="1608.600" rx="27.500" ry="46.500" transform="rotate(-30 319.700 1608.600)"/>
<ellipse class="k" stroke-width="5.99" cx="407.500" cy="1557.800" rx="29" ry="46" transform="rotate(-30 407.500 1557.800)"/>
<path class="k" stroke-width="5.35" stroke-linejoin="miter" d="M455.500 1583.900L463.800 1594.800L252.500 1715.600L233.300 1704.600"/>
<!-- pin 38 / 43 -->
<g transform="translate(425.300 1500.400) rotate(-30)"><rect x="-7" y="-3" width="13" height="6" rx="1.500" class="k" stroke-width="1.40" fill="#ddd"/></g>
<path class="k" stroke-width="1.40" d="M458 1468.500l5-2.500M460 1470.500l3.500-2"/>
<path class="k" stroke-width="2.00" d="M506 1433l2.500 4M504 1443c2-3 5-4 8-3"/>
<g font-size="39.500">
<text x="135.400" y="1602.400" textLength="20.8" lengthAdjust="spacingAndGlyphs">4</text>
<text x="213" y="1552.800" textLength="20.8" lengthAdjust="spacingAndGlyphs">3</text>
<text x="318" y="1502.500" textLength="20.8" lengthAdjust="spacingAndGlyphs">2</text>
<text x="393.500" y="1442.300" textLength="41.5" lengthAdjust="spacingAndGlyphs">43</text>
<text x="350.500" y="1470" textLength="41.5" lengthAdjust="spacingAndGlyphs">38</text>
<text x="797" y="1532" textLength="20.8" lengthAdjust="spacingAndGlyphs">1</text>
</g>
<path class="t" d="M343 1500L386 1518.500M751.500 1490.500L795 1512"/>

<!-- ===== rings 2,3,4 + detail 1 ===== -->
<clipPath id="cl1"><ellipse cx="423.1" cy="1778.1" rx="127" ry="70"/></clipPath>
<g clip-path="url(#cl1)">
<path class="t" d="M310.0 1780.1 L570.2 2040.2 M310.0 1704.0 L570.2 1964.2 M310.0 1664.0 L570.2 1924.2 M310.0 1629.0 L570.2 1889.1 M310.0 1592.0 L570.2 1852.1 M310.0 1558.0 L570.2 1818.1"/>
<path class="w" d="M290.0 1700.0 L560.2 1700.0 L560.2 1760.1 L290.0 1760.1 Z"/>
<path class="w" d="M290.0 1760.1 L328.0 1760.1 L328.0 1860.1 L290.0 1860.1 Z"/>
<path class="w" d="M328.0 1760.1 L383.1 1760.1 L383.1 1799.1 L347.0 1799.1 L347.0 1781.1 L328.0 1781.1 Z"/>
<path class="w" d="M410.1 1760.1 L447.1 1760.1 L447.1 1787.1 L410.1 1787.1 Z"/>
<path class="w" d="M473.1 1760.1 L504.1 1760.1 L504.1 1799.1 L473.1 1799.1 Z"/>
<path class="w" d="M529.2 1760.1 L560.2 1760.1 L560.2 1788.1 L529.2 1788.1 Z"/>
<g class="k" stroke-width="4.07">
<path d="M294.0 1760.1 L554.2 1760.1"/>
<path d="M318.0 1760.1 L318.0 1818.1"/>
<path d="M328.0 1760.1 L328.0 1820.1 L324.0 1823.1"/>
<path d="M328.0 1781.1 L347.0 1781.1 L347.0 1799.1 L383.1 1799.1 L384.1 1760.1"/>
<path d="M410.1 1760.1 L410.1 1787.1 L447.1 1787.1 L447.1 1760.1"/>
<path d="M473.1 1760.1 L473.1 1799.1 L504.1 1799.1 L504.1 1760.1"/>
<path d="M529.2 1760.1 L530.2 1788.1 L548.2 1788.1"/>
</g>
<g class="k" stroke-width="2.20">
<path d="M336.0 1761.1 L336.0 1775.1 L353.0 1776.5 L352.0 1798.1"/>
<path d="M442.1 1764.5 L428.1 1771.1 L442.5 1780.1"/>
<path d="M478.1 1764.1 L478.5 1778.1"/>
<path d="M502.1 1778.1 L482.5 1787.1 L483.1 1793.1 L494.1 1794.1 L498.1 1798.1"/>
</g>
</g>
<ellipse cx="423.1" cy="1778.1" rx="127" ry="70" class="k" stroke-width="4.80" stroke-linecap="butt" pathLength="644" stroke-dasharray="36 15 20 15 20 15 80 15 20 15 20 15 72 15 20 15 20 15 80 15 20 15 20 15 36"/>
<path class="t" d="M366 1694V1770M419 1691V1760M493.700 1696V1760"/>
<g font-size="39.500"><text x="355" y="1693" textLength="20.8" lengthAdjust="spacingAndGlyphs">4</text><text x="410" y="1683" textLength="20.8" lengthAdjust="spacingAndGlyphs">3</text><text x="482" y="1685" textLength="20.8" lengthAdjust="spacingAndGlyphs">2</text></g>

<!-- ===== BOTTOM ASSEMBLY ===== -->
<!-- main axis line -->

<path class="t" d="M869.100 1998.400L950 1951.500"/>
<path class="t" d="M1420.200 1682.300L1495.500 1636.800"/>
<!-- body 11 -->
<g id="body11">
<path class="w" d="M756.400 1828.700L867.900 1892.600V2026.300L775 2080.900L663.400 2017V1882.200Z"/>
<g class="t">
<path d="M663.400 1882.200L775 1946.100L867.900 1892.600M775 1946.100V2080.900"/>
<ellipse cx="680.800" cy="1912.400" rx="6.800" ry="10.500" transform="rotate(-22 680.800 1912.400)"/>
<ellipse cx="757.500" cy="1957.700" rx="6.800" ry="10.500" transform="rotate(-22 757.500 1957.700)"/>
<ellipse cx="757.500" cy="2051.800" rx="6.800" ry="10.500" transform="rotate(-22 757.500 2051.800)"/>
<ellipse cx="678.500" cy="2005.400" rx="6.800" ry="10.500" transform="rotate(-22 678.500 2005.400)" stroke="#777"/>
<path d="M671 2000L688 2011" stroke="#777"/>
<ellipse cx="754" cy="1979.800" rx="2" ry="3.200" transform="rotate(-25 754 1979.800)" stroke-width="1.80"/>
<ellipse cx="778.500" cy="1879.400" rx="8" ry="5"/>
<path d="M773 1879.500c1-2 5-3 8-1.500" stroke="#777"/>
<ellipse cx="754" cy="1892.600" rx="4.500" ry="3"/>
<path d="M734.800 1800.800V1893.800M759.400 1743.900V1907.700M778 1834.500V1877.500" stroke-width="1.70"/>
</g>
<ellipse cx="734.800" cy="1895" rx="3" ry="2" fill="#222"/>
<ellipse cx="760.300" cy="1908.900" rx="3.200" ry="2" fill="#222"/>
<!-- bore -->
<g transform="translate(713.400 1985.600) rotate(-25)">
<ellipse class="k" stroke-width="4.07" rx="30" ry="43" fill="#fff"/>
<ellipse class="t" rx="25.500" ry="39" cx="-3" cy="1.500" stroke="#444"/>
<path d="M12 -36.500A26.500 40 0 0 1 12 37.500" stroke="#333" stroke-width="4.50" stroke-dasharray="1.300 1.300" fill="none"/>
<g class="t" stroke="#555" stroke-width="1.00">
<path d="M14 -35l5 1M17 -30l5 1.500M19.500 -25l5.500 1.500M21.500 -19l5.500 1.500M23 -13l5.500 1M24 -7l5.500 .5M24.500 -1h5.500M24.500 5l5.500 -.5M24 11l5.500 -1M22.500 17l5.500 -1.500M20.500 23l5.500 -2M18 28l5 -2M14.500 33l5 -2.500"/>
</g>
</g>
<ellipse class="k" stroke-width="3.62" cx="714.500" cy="1986.500" rx="17.500" ry="32.500" transform="rotate(-20 714.500 1986.500)"/>
<path class="t" d="M685.500 2004.200L711.100 1990.200"/>
<g class="k" stroke-width="4.18">
<path d="M756.400 1828.700L867.900 1892.600V2026.300L775 2080.900L663.400 2017V1882.200Z"/>
</g>
</g>
<!-- balls / pins above body 11 -->
<g class="t">
<path d="M765.700 1740.400L799.400 1724.200M763.300 1788.100L799.400 1767.200M783.100 1821.800L819.100 1803.200"/>
<path d="M699.400 1775.300L732 1792.700M702.900 1811.300L733.100 1827.600"/>
<path d="M606.500 1932.200L651.800 1961.200M560 1967.200L599.500 1991.400"/>
<path d="M612.300 1990.300L680.800 1949.600M659.900 1958.900L683.200 1946.100"/>
<path d="M822.600 2054.200L857.500 2075.100"/>
</g>
<circle cx="735.900" cy="1796.200" r="4.400" fill="#1a1a1a"/>
<path d="M732.500 1827.500l3-2l3 2l-3 2.500z" fill="#222"/>
<ellipse cx="759.900" cy="1737.800" rx="4.600" ry="5.400" fill="#333"/><ellipse cx="760.300" cy="1737" rx="2" ry="2.600" fill="#aaa"/>
<ellipse cx="759.400" cy="1788.800" rx="2.600" ry="1.800" fill="#222"/>
<path class="k" stroke-width="1.80" fill="#fff" d="M775 1819.500c0-3 6-3 6 0v5c0 2-1 3-1.500 4v4h-3v-4c-.5-1-1.500-2-1.500-4z"/>
<path class="k" stroke-width="1.40" d="M775 1823.500h6"/>
<g transform="translate(604.200 1994.900) rotate(-30)"><rect x="-6" y="-3" width="12" height="6" rx="2.500" class="k" stroke-width="1.40" fill="#fff"/></g>
<g transform="translate(653 1962.400) rotate(-30)"><rect x="-6" y="-2.600" width="12" height="5.200" rx="2.500" class="k" stroke-width="1.40" fill="#fff"/></g>
<ellipse cx="686.700" cy="1941.400" rx="2.400" ry="3" class="k" stroke-width="1.60"/>
<g font-size="39.500">
<text x="800.700" y="1735.800" textLength="41.5" lengthAdjust="spacingAndGlyphs">35</text>
<text x="800.700" y="1771.800" textLength="41.5" lengthAdjust="spacingAndGlyphs">36</text>
<text x="826.300" y="1804.300" textLength="41.5" lengthAdjust="spacingAndGlyphs">37</text>
<text x="658.900" y="1782.300" textLength="41.5" lengthAdjust="spacingAndGlyphs">39</text>
<text x="657.800" y="1818.300" textLength="41.5" lengthAdjust="spacingAndGlyphs">40</text>
<text x="571.800" y="1925.900" textLength="41.5" lengthAdjust="spacingAndGlyphs">43</text>
<text x="517.700" y="1967" textLength="41.5" lengthAdjust="spacingAndGlyphs">38</text>
<text x="860.500" y="2097.100" textLength="41.5" lengthAdjust="spacingAndGlyphs">11</text>
<text x="1115.200" y="1953.900" textLength="41.5" lengthAdjust="spacingAndGlyphs">13</text>
<text x="1507.200" y="1727.700" textLength="41.5" lengthAdjust="spacingAndGlyphs">15</text>
<text x="1558.400" y="1696.500" textLength="41.5" lengthAdjust="spacingAndGlyphs">16</text>
</g>
<!-- rod 13 -->
<path class="t" d="M1056.900 1902.300L1107.400 1931.900M1465.600 1679.400L1506.800 1702.200M1531 1647.600L1562.200 1665.200"/>
<g transform="translate(950 1950.300) rotate(-29.880)">
<!-- rod -->
<path class="k" stroke-width="3.62" fill="#fff" d="M88 -5.500H481V5.500H88Z"/>
<!-- collar 2 -->
<path class="k" stroke-width="3.62" fill="#fff" d="M372 -6L377 -11.500H408L413 -6V6L408 11.500H377L372 6"/>
<path class="t" d="M378 -11.500A5.500 11.500 0 0 1 378 11.500" stroke="#444"/>
<!-- collar 1 (right) -->
<path class="k" stroke-width="3.62" fill="#fff" d="M479 -5.500L482 -9.500H500L503 -6V6L500 9.500H482L479 5.500"/>
<path class="t" d="M485 -9.500A4.500 9.500 0 0 1 485 9.500" stroke="#444"/>
<rect x="503" y="-5.500" width="15" height="11" fill="#111"/>
<path d="M510 -7A3 7 0 0 1 510 7" stroke="#111" stroke-width="3.39" fill="none"/>
<path d="M518 -8.200H539A4 8.200 0 0 1 539 8.200H518A4 8.200 0 0 1 518 -8.200Z" fill="#222" stroke="#111" stroke-width="2.40"/>
<path d="M521 -7v14M524.500 -7v14M528 -7v14M531.500 -7v14M535 -7v14M538.500 -6v12" stroke="#999" stroke-width="1.00"/>
<!-- left collar -->
<path class="k" stroke-width="3.62" fill="#fff" d="M56 -11.500H86L90 -7V7L86 11.500H56Z"/>
<path class="k" stroke-width="2.60" d="M57 -11.500A5.500 11.500 0 0 1 57 11.500"/>
<!-- neck -->
<path class="k" stroke-width="3.39" fill="#fff" d="M38 -9H56V9H38Z"/>
<!-- thread -->
<path class="k" stroke-width="3.62" fill="#fff" d="M4 -10H40A4.500 10 0 0 1 40 10H4A4.500 10 0 0 1 4 -10Z"/>
<path class="t" stroke="#666" stroke-width="1.00" d="M12 -10A4.500 10 0 0 1 12 10M15.500 -10A4.500 10 0 0 1 15.500 10M19 -10A4.500 10 0 0 1 19 10M22.500 -10A4.500 10 0 0 1 22.500 10M26 -10A4.500 10 0 0 1 26 10M29.500 -10A4.500 10 0 0 1 29.500 10M33 -10A4.500 10 0 0 1 33 10M36.500 -10A4.500 10 0 0 1 36.500 10"/>
<path class="t" d="M4 0h5" stroke="#444"/>
</g>
<!-- washer 15 -->
<ellipse cx="1451.400" cy="1662.400" rx="11" ry="19.500" transform="rotate(-30 1451.400 1662.400)" fill="#fff" stroke="#444" stroke-width="2.20"/>
<ellipse cx="1451.400" cy="1662.400" rx="8" ry="15.500" transform="rotate(-30 1451.400 1662.400)" fill="none" stroke="#666" stroke-width="1.30"/>
<path class="t" d="M1441.500 1669.500L1453 1662"/>
<!-- nut 16 -->
<g stroke="#444" stroke-width="2.20" fill="#fff" stroke-linejoin="round">
<path d="M1486.500 1622L1492.500 1612.500L1518 1600.500L1535 1608.500L1541 1625.500L1530 1647L1505.500 1654.500L1490 1644Z"/>
<path d="M1492.500 1612.500L1508 1617.500L1518 1636.500L1505.500 1654.500M1508 1617.500L1535 1608.500M1518 1636.500L1541 1625.500" fill="none" stroke-width="1.60"/>
<ellipse cx="1502" cy="1631" rx="6.500" ry="10.500" transform="rotate(-30 1502 1631)" stroke-width="2.40"/>
<path d="M1497 1626l9 8" stroke-width="1.40"/>
</g>

<!-- ===== bottom rings ===== -->
<g class="t">
<path d="M145.100 2365.900L180.300 2387.600M189.800 2334.700L222.300 2355M235.900 2304.900L294.200 2319.300L276.600 2281.800"/>
<path d="M337.500 2255.300L390.800 2264.700L381.400 2233.400"/>
<path d="M473 2175L507 2193M522 2142L558 2162M584 2097L637 2120L627 2092"/>
</g>
<g class="k">
<ellipse stroke-width="6.85" cx="112.500" cy="2334.700" rx="24" ry="46" transform="rotate(-30 112.500 2334.700)"/>
<ellipse stroke-width="6.42" cx="166.800" cy="2304.900" rx="20.500" ry="37" transform="rotate(-30 166.800 2304.900)"/>
<ellipse stroke-width="6.42" cx="212.900" cy="2277.800" rx="16.500" ry="33" transform="rotate(-30 212.900 2277.800)"/>
<ellipse stroke-width="6.42" cx="256.200" cy="2252" rx="20.500" ry="32.500" transform="rotate(-30 256.200 2252)"/>
<ellipse stroke-width="6.85" cx="303.700" cy="2223.500" rx="24" ry="45" transform="rotate(-30 303.700 2223.500)"/>
<ellipse stroke-width="6.85" cx="352.500" cy="2196.400" rx="24" ry="45" transform="rotate(-30 352.500 2196.400)"/>
<ellipse stroke-width="6.85" cx="548" cy="2081" rx="24" ry="45" transform="rotate(-30 548 2081)"/>
<ellipse stroke-width="6.85" cx="599.100" cy="2055" rx="24" ry="45" transform="rotate(-30 599.100 2055)"/>
<ellipse stroke-width="2.40" cx="495.600" cy="2113" rx="23.500" ry="37.500" transform="rotate(-30 495.600 2113)"/>
<ellipse stroke-width="2.60" cx="495.600" cy="2113" rx="18.500" ry="32" transform="rotate(-30 495.600 2113)"/>
</g>
<!-- part 6 -->
<g transform="translate(423 2153) rotate(-30)">
<path class="k w" stroke-width="4.07" fill="#fff" d="M0 -43.500H23A23 43.500 0 0 1 23 43.500H0"/>
<path class="k" stroke-width="4.52" d="M12 -43.500A23 43.500 0 0 1 12 43.500"/>
<path class="k" stroke-width="3.39" d="M18 -43.500A23 43.500 0 0 1 18 43.500"/>
<path class="t" d="M6 -43.500A23 43.500 0 0 1 6 43.500" stroke="#666"/>
<ellipse class="k" stroke-width="4.07" fill="#fff" rx="23" ry="43.500"/>
<ellipse class="k" stroke-width="2.40" fill="#777" rx="16" ry="35" cx="0" cy="0.500"/>
<ellipse class="k" stroke-width="3.39" fill="#fff" rx="11" ry="28" cx="6.500" cy="1"/>
<g class="t" stroke="#222" stroke-width="1.00"><path d="M-9 -29A16 35 0 0 0 -9 30M-5 -33A16 35 0 0 0 -5 34M-13 -20A16 35 0 0 0 -13 22"/></g>
</g>
<path class="k" stroke-width="5.35" stroke-linejoin="miter" d="M158.600 2402.500L218.300 2437.700L724.500 2145.600L699.800 2133.500"/>
<g font-size="39.500">
<text x="180.700" y="2412" textLength="41.5" lengthAdjust="spacingAndGlyphs">10</text>
<text x="232.200" y="2380.800" textLength="20.8" lengthAdjust="spacingAndGlyphs">9</text>
<text x="295.900" y="2342.800" textLength="20.8" lengthAdjust="spacingAndGlyphs">8</text>
<text x="391.400" y="2288.300" textLength="41.5" lengthAdjust="spacingAndGlyphs">10</text>
<text x="514" y="2220" textLength="20.8" lengthAdjust="spacingAndGlyphs">6</text>
<text x="566" y="2192" textLength="20.8" lengthAdjust="spacingAndGlyphs">7</text>
<text x="636" y="2149" textLength="41.5" lengthAdjust="spacingAndGlyphs">10</text>
</g>
<path class="t" d="M44.7 2374.0L112.5 2334.7M135.9 2321.2L166.8 2304.9M187.2 2293.2L212.9 2277.8M229.8 2268.0L256.2 2252.0M276.6 2240.3L303.7 2223.5M327.1 2210.0L352.5 2196.4M375.9 2182.9L423.0 2153.0M462.8 2130.0L495.6 2113.0M516.9 2100.7L548.0 2081.0M571.4 2067.5L599.1 2055.0M622.5 2041.5L662.3 2017.0"/>

<!-- ===== detail 2 ===== -->
<clipPath id="cl2a"><path d="M619.3 2302.6 L919.1 2302.6 L919.1 2399.5 L619.3 2399.5 Z"/></clipPath>
<clipPath id="cl2b"><path d="M919.1 2322.8H1062V2399.5H919.1Z"/></clipPath>
<clipPath id="cl2"><ellipse cx="825.8" cy="2356.8" rx="252" ry="104"/></clipPath>
<g clip-path="url(#cl2)">
<g clip-path="url(#cl2a)"><path class="t" stroke-width="1.10" stroke="#333" d="M560.0 1906.2 L978.3 2324.6 M560.0 1916.7 L978.3 2335.0 M560.0 1927.2 L978.3 2345.5 M560.0 1937.6 L978.3 2356.0 M560.0 1948.1 L978.3 2366.4 M560.0 1958.5 L978.3 2376.9 M560.0 1969.0 L978.3 2387.3 M560.0 1979.5 L978.3 2397.8 M560.0 1989.9 L978.3 2408.3 M560.0 2000.4 L978.3 2418.7 M560.0 2010.8 L978.3 2429.2 M560.0 2021.3 L978.3 2439.6 M560.0 2031.7 L978.3 2450.1 M560.0 2042.2 L978.3 2460.5 M560.0 2052.7 L978.3 2471.0 M560.0 2063.1 L978.3 2481.5 M560.0 2073.6 L978.3 2491.9 M560.0 2084.0 L978.3 2502.4 M560.0 2094.5 L978.3 2512.8 M560.0 2105.0 L978.3 2523.3 M560.0 2115.4 L978.3 2533.8 M560.0 2125.9 L978.3 2544.2 M560.0 2136.3 L978.3 2554.7 M560.0 2146.8 L978.3 2565.1 M560.0 2157.2 L978.3 2575.6 M560.0 2167.7 L978.3 2586.0 M560.0 2178.2 L978.3 2596.5 M560.0 2188.6 L978.3 2607.0 M560.0 2199.1 L978.3 2617.4 M560.0 2209.5 L978.3 2627.9 M560.0 2220.0 L978.3 2638.3 M560.0 2230.5 L978.3 2648.8 M560.0 2240.9 L978.3 2659.3 M560.0 2251.4 L978.3 2669.7 M560.0 2261.8 L978.3 2680.2 M560.0 2272.3 L978.3 2690.6 M560.0 2282.8 L978.3 2701.1 M560.0 2293.2 L978.3 2711.5 M560.0 2303.7 L978.3 2722.0 M560.0 2314.1 L978.3 2732.5 M560.0 2324.6 L978.3 2742.9 M560.0 2335.0 L978.3 2753.4 M560.0 2345.5 L978.3 2763.8 M560.0 2356.0 L978.3 2774.3 M560.0 2366.4 L978.3 2784.8 M560.0 2376.9 L978.3 2795.2 M560.0 2387.3 L978.3 2805.7 M560.0 2397.8 L978.3 2816.1 M560.0 2408.3 L978.3 2826.6 M560.0 2418.7 L978.3 2837.0"/></g>
<g clip-path="url(#cl2b)"><path class="t" stroke-width="1.20" d="M908.6 2220.0 L560.0 2568.6 M940.0 2220.0 L591.4 2568.6 M971.4 2220.0 L622.8 2568.6 M1002.7 2220.0 L654.1 2568.6 M1034.1 2220.0 L685.5 2568.6 M1065.5 2220.0 L716.9 2568.6 M1096.9 2220.0 L748.3 2568.6 M1128.2 2220.0 L779.6 2568.6 M1159.6 2220.0 L811.0 2568.6 M1191.0 2220.0 L842.4 2568.6 M1222.4 2220.0 L873.8 2568.6 M1253.7 2220.0 L905.1 2568.6 M1285.1 2220.0 L936.5 2568.6 M1316.5 2220.0 L967.9 2568.6 M1347.9 2220.0 L999.3 2568.6 M1379.2 2220.0 L1030.6 2568.6"/></g>
<g class="k" stroke-width="2.80" fill="#fff">
<path d="M642.6 2302.6 L642.6 2340.3 L666.3 2340.3 L666.3 2302.6"/>
<path d="M689.7 2302.6 L689.7 2340.3 L721.1 2340.3 L721.1 2302.6"/>
<path d="M797.1 2302.6 L797.1 2340.3 L828.4 2340.3 L828.4 2302.6"/>
<path d="M847.6 2302.6 L847.6 2335.0 L898.2 2335.0 L898.2 2302.6"/>
<path d="M743.0 2302.6 L743.0 2319.4 L751.0 2319.4 L751.0 2387.3 L725.6 2387.3 L720.4 2399.5 L781.4 2399.5 L776.1 2387.3 L763.9 2387.3 L763.9 2319.4 L770.9 2319.4 L770.9 2302.6"/>
<path d="M631.8584277496949 2361.2H633.2415722503051Q643.7 2361.2 643.7 2371.658427749695V2388.041572250305Q643.7 2398.5 633.2415722503051 2398.5H631.8584277496949Q621.4 2398.5 621.4 2388.041572250305V2371.658427749695Q621.4 2361.2 631.8584277496949 2361.2Z"/>
<path d="M809.3014990413108 2375.1H821.4985009586893Q833.7 2375.1 833.7 2387.3014990413108V2386.5985009586893Q833.7 2398.8 821.4985009586893 2398.8H809.3014990413108Q797.1 2398.8 797.1 2386.5985009586893V2387.3014990413108Q797.1 2375.1 809.3014990413108 2375.1Z"/>
<path d="M863.3014990413108 2375.1H877.1985009586892Q889.4 2375.1 889.4 2387.3014990413108V2386.5985009586893Q889.4 2398.8 877.1985009586892 2398.8H863.3014990413108Q851.1 2398.8 851.1 2386.5985009586893V2387.3014990413108Q851.1 2375.1 863.3014990413108 2375.1Z"/>
<path d="M955.7014990413107 2375.1H967.8985009586893Q980.1 2375.1 980.1 2387.3014990413108V2386.5985009586893Q980.1 2398.8 967.8985009586893 2398.8H955.7014990413107Q943.5 2398.8 943.5 2386.5985009586893V2387.3014990413108Q943.5 2375.1 955.7014990413107 2375.1Z"/>
<path d="M1020.2014990413107 2375.1H1032.398500958689Q1044.6 2375.1 1044.6 2387.3014990413108V2386.5985009586893Q1044.6 2398.8 1032.398500958689 2398.8H1020.2014990413107Q1008.0 2398.8 1008.0 2386.5985009586893V2387.3014990413108Q1008.0 2375.1 1020.2014990413107 2375.1Z"/>
<path stroke-width="2.20" d="M700.8805996165244 2321.1H712.7194003834757Q717.6 2321.1 717.6 2325.980599616524V2333.6194003834757Q717.6 2338.5 712.7194003834757 2338.5H700.8805996165244Q696.0 2338.5 696.0 2333.6194003834757V2325.980599616524Q696.0 2321.1 700.8805996165244 2321.1Z"/>
<path stroke-width="2.20" d="M808.1805996165243 2321.1H820.0194003834756Q824.9 2321.1 824.9 2325.980599616524V2333.6194003834757Q824.9 2338.5 820.0194003834756 2338.5H808.1805996165243Q803.3 2338.5 803.3 2333.6194003834757V2325.980599616524Q803.3 2321.1 808.1805996165243 2321.1Z"/>
<path stroke-width="2.40" d="M854.6 2307.2 L865.0 2311.3 L882.5 2311.3 L894.7 2307.2 L892.9 2315.9 L895.4 2326.3 L882.5 2330.9 L865.0 2330.9 L852.8 2328.1 L856.3 2317.6 Z"/>
</g>
<path class="k" stroke-width="1.60" d="M694.2 2308.9 L702.9 2308.9 M709.9 2311.3 L718.6 2307.2 M801.6 2308.9 L810.3 2308.9 M817.3 2311.3 L826.0 2307.2"/>
<g class="k" stroke-width="3.62">
<path d="M1062.0 2302.6 L619.3 2302.6 L619.3 2399.5 L1051.5 2399.5"/>
<path d="M919.1 2302.6 L919.1 2399.5"/>
<path d="M919.1 2322.8 L1069.0 2322.8"/>
</g>
</g>
<ellipse cx="825.8" cy="2356.8" rx="252" ry="104" class="k" stroke-width="4.97" stroke-linecap="butt" pathLength="1176" stroke-dasharray="60 17.5 30 17.5 30 17.5 30 17.5 96 21 37 19 28 18 118 15.5 31 8 16 8 108 17 30 17 25.5 17 106 17.5 30 17.5 30 17.5 30 17.5 60"/>
<path class="t" stroke-width="1.80" d="M579.2 2336.8 L605.3 2336.8 L618.6 2346.2"/>
<g class="t">
<path d="M872 2486.700L631.500 2383.900M872 2486.700L816.200 2387.300M872 2486.700V2387.300M872 2486.700L964.400 2387.300M872 2486.700L1025.400 2387.300"/>
<path d="M663 2225V2315.700M786.500 2236.100L716.800 2302M786.500 2236.100L815.600 2302M882.500 2225V2302"/>
</g>
<g font-size="39.500"><text x="867.500" y="2521.500" textLength="41.5" lengthAdjust="spacingAndGlyphs">10</text><text x="654.300" y="2222.400" textLength="20.8" lengthAdjust="spacingAndGlyphs">9</text><text x="776.200" y="2225" textLength="20.8" lengthAdjust="spacingAndGlyphs">8</text><text x="872.200" y="2222.400" textLength="20.8" lengthAdjust="spacingAndGlyphs">7</text></g>

<!-- watermark -->
<g transform="translate(556 1496) rotate(-12.300)" style="mix-blend-mode:multiply">
<text x="6.200 46.900 130.900 198.700 268.300 332.800 384.900 405.500 498.600 540.200" y="0" font-size="124" font-weight="bold" style="fill:#edf2f7;stroke:none">topsealkit</text>
</g>

</svg>
</body></html>
